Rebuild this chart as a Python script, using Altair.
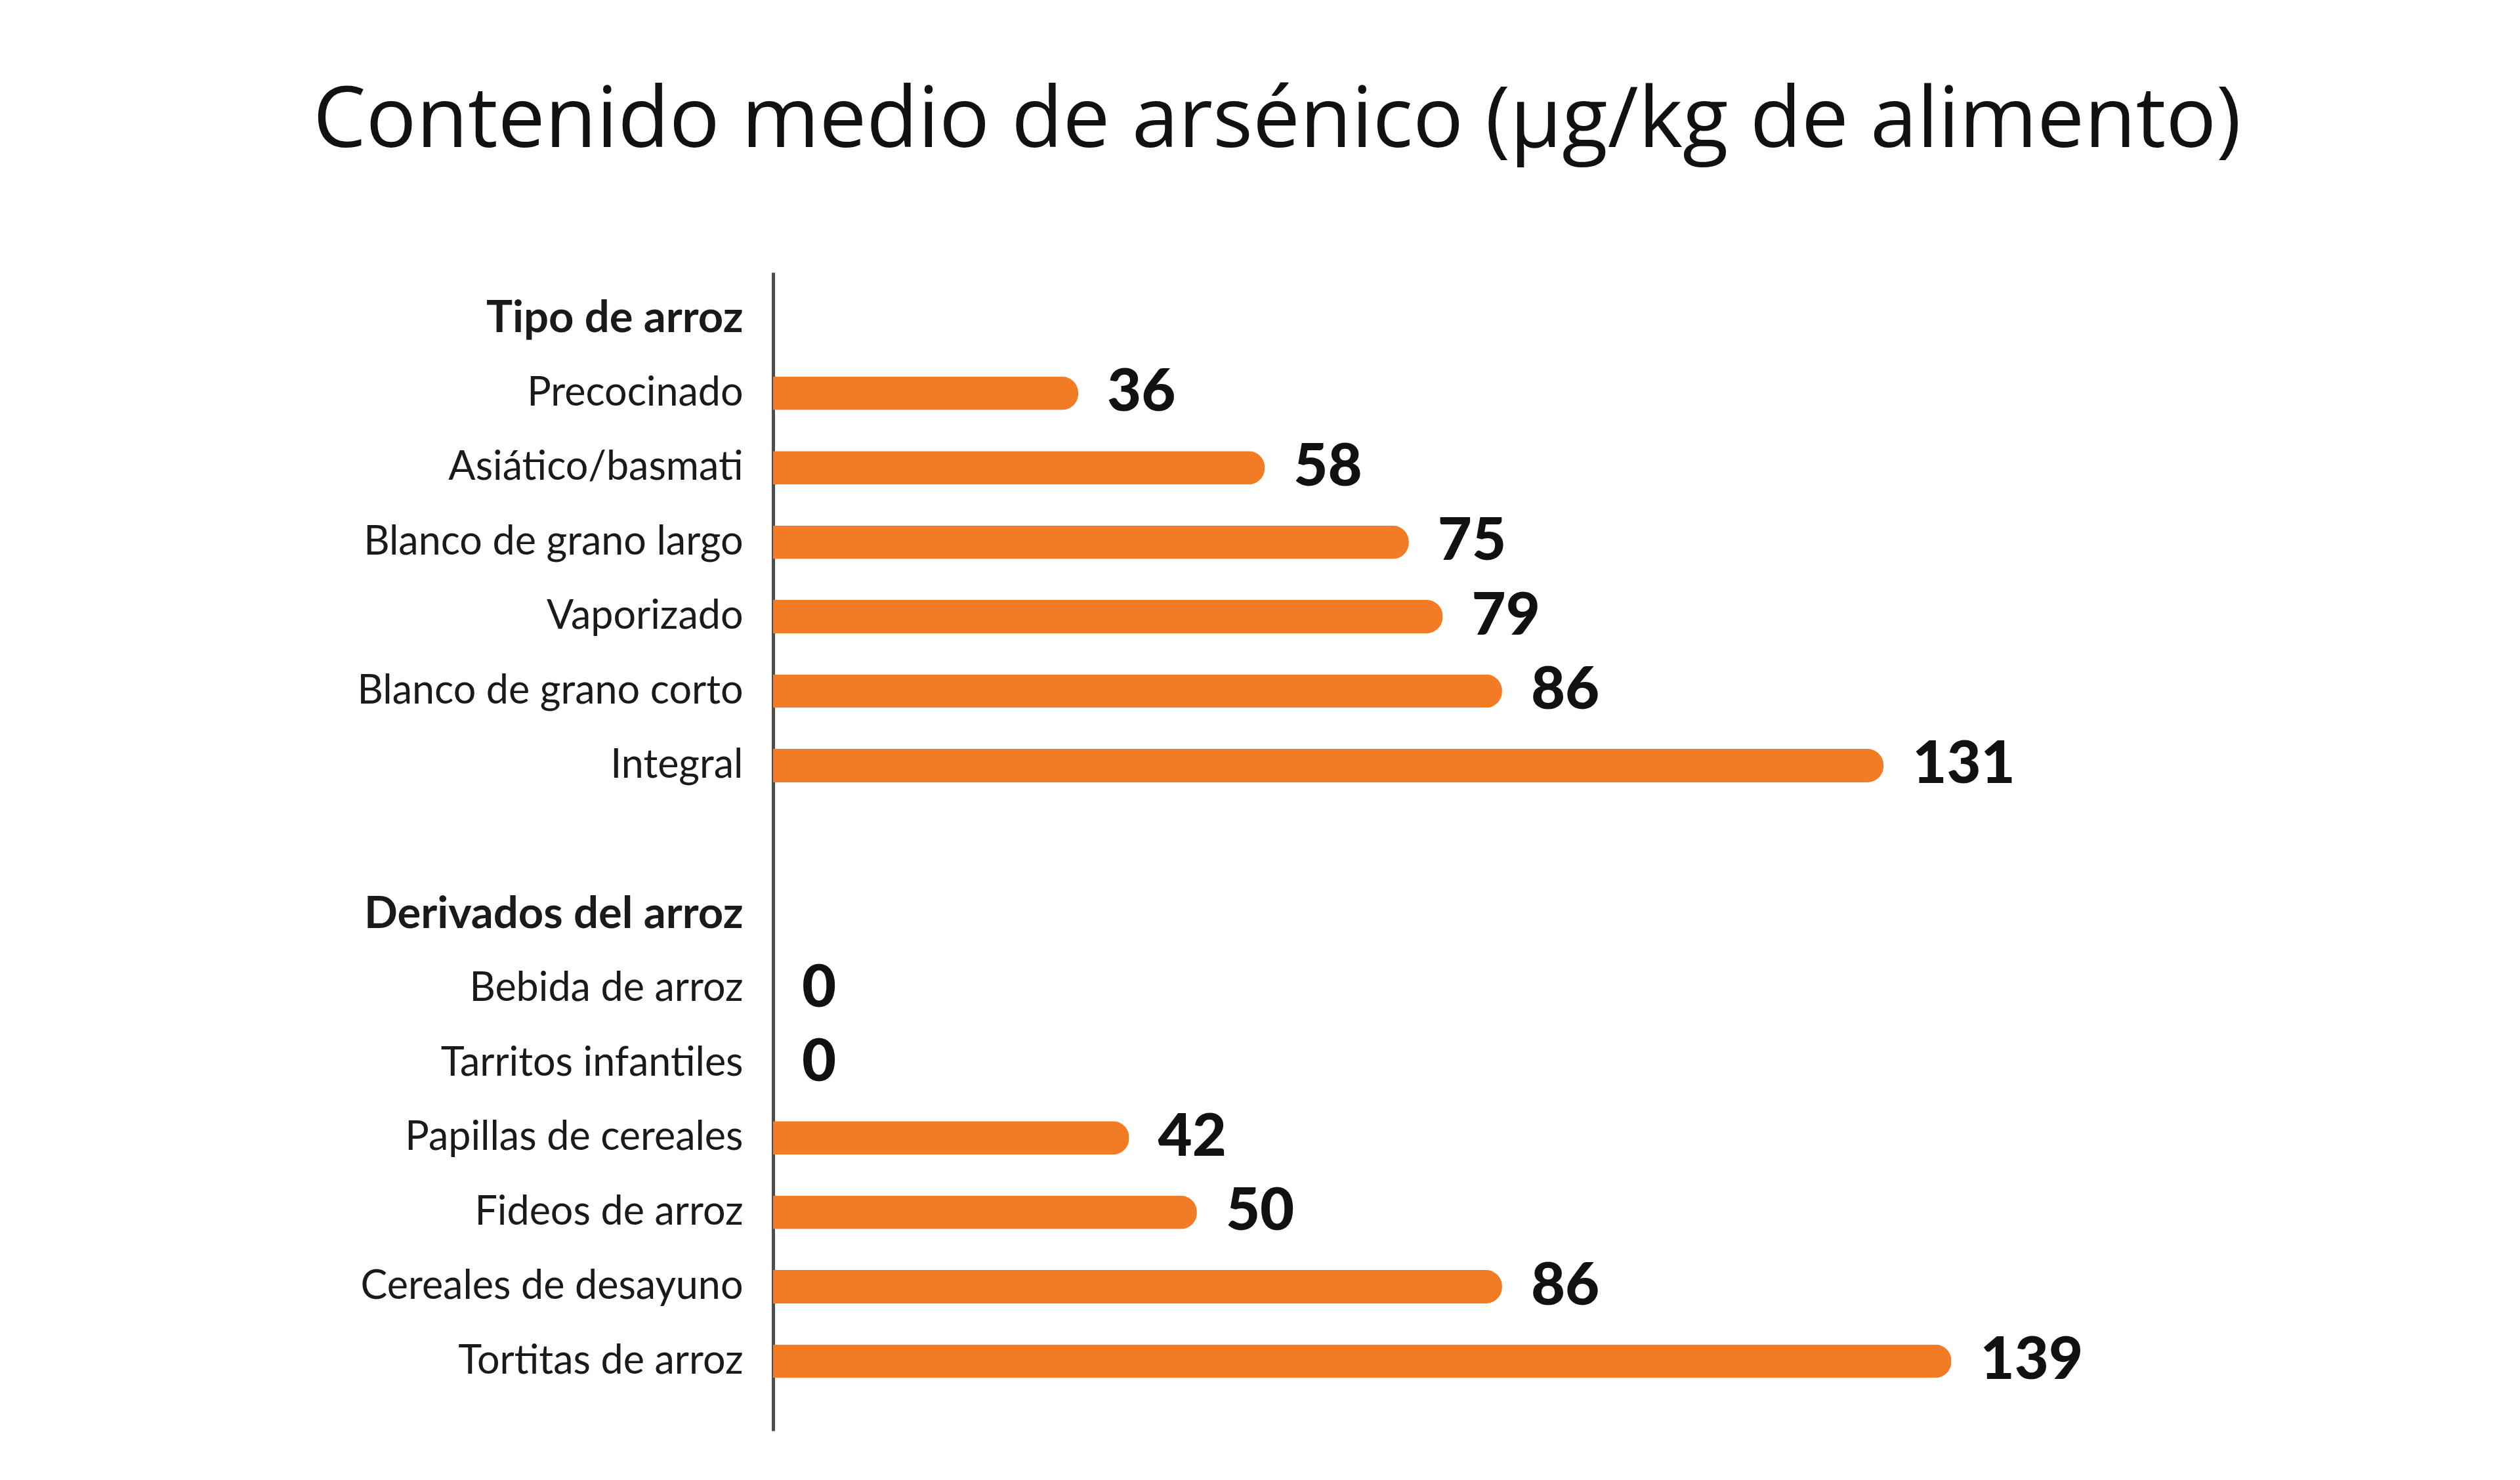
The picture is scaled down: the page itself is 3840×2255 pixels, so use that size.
import altair as alt
import pandas as pd

title_text = "Contenido medio de arsénico (µg/kg de alimento)"
headers = ["Tipo de arroz", "Derivados del arroz"]
tipo_labels = ["Precocinado", "Asiático/basmati", "Blanco de grano largo",
               "Vaporizado", "Blanco de grano corto", "Integral"]
tipo_values = [36, 58, 75, 79, 86, 131]
deriv_labels = ["Bebida de arroz", "Tarritos infantiles", "Papillas de cereales",
                "Fideos de arroz", "Cereales de desayuno", "Tortitas de arroz"]
deriv_values = [0, 0, 42, 50, 86, 139]

# build row order: header, items, blank, header, items
row_names = [headers[0]] + tipo_labels + [""] + [headers[1]] + deriv_labels
rows = []
for i, (n, v) in enumerate(zip(tipo_labels, tipo_values)):
    rows.append({"row": 1 + i, "name": n, "value": v})
for i, (n, v) in enumerate(zip(deriv_labels, deriv_values)):
    rows.append({"row": 9 + i, "name": n, "value": v})
df = pd.DataFrame(rows)
df["label"] = df["value"].astype(str)

label_values = [i for i, n in enumerate(row_names) if n != ""]
names_js = "[" + ",".join("'" + n.replace("'", "\\'") + "'" for n in row_names) + "]"
header_test = "datum.value == 0 || datum.value == 8"

W = 2196
H = 1765

yscale = alt.Scale(domain=[-0.58, 14.89], reverse=True, zero=False, nice=False)
xscale = alt.Scale(domain=[0, 170], zero=True, nice=False)

yaxis = alt.Axis(
    values=label_values,
    labelExpr=names_js + "[datum.value]",
    title=None,
    ticks=False,
    grid=False,
    domain=True,
    domainColor="#4d4d4d",
    domainWidth=5,
    labelFont="Lato",
    labelFontSize={"condition": {"test": header_test, "value": 67}, "value": 61},
    labelColor="#1a1a1a",
    labelPadding=46,
    labelLimit=2000,
    labelOverlap=False,
    labelFlush=False,
    labelBound=False,
    labelBaseline="middle",
    labelFontWeight={"condition": {"test": header_test, "value": "bold"}, "value": "normal"},
)

base = alt.Chart(df)

bars = base.transform_filter("datum.value > 0").mark_bar(
    orient="horizontal", size=51, color="#F27B25", cornerRadiusEnd=25
).encode(
    x=alt.X("value:Q", scale=xscale, axis=None),
    y=alt.Y("row:Q", scale=yscale, axis=yaxis),
)

texts = base.mark_text(
    align="left", baseline="middle", dx=44, font="Lato", fontWeight=900,
    fontSize=90, color="#111111"
).encode(
    x=alt.X("value:Q", scale=xscale, axis=None),
    y=alt.Y("row:Q", scale=yscale, axis=yaxis),
    text="label:N",
)

chart = alt.layer(bars, texts).properties(
    width=W,
    height=H,
    background="white",
    title=alt.Title(
        title_text, font="Open Sans", fontSize=128, fontWeight="normal",
        color="#111111", anchor="middle", frame="group", dx=-330, offset=164,
    ),
    autosize=alt.AutoSizeParams(type="none"),
    padding={"left": 1170, "top": 407, "right": 200, "bottom": 60},
).configure_view(strokeWidth=0, stroke="transparent")

chart.save("out.html", embed_options={"renderer": "svg", "actions": False})
